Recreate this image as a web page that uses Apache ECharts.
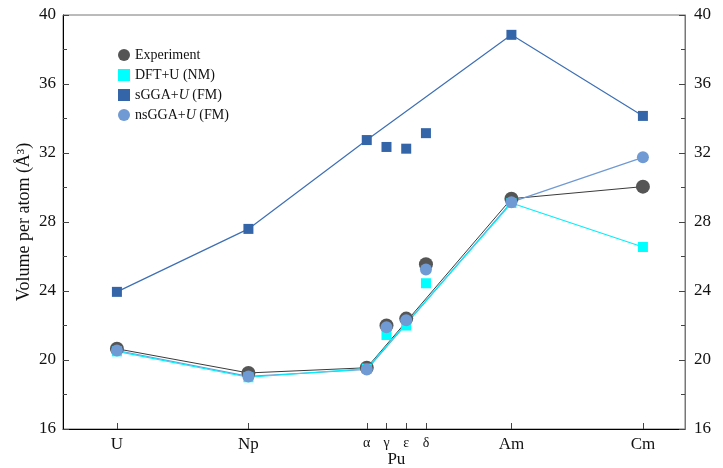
<!DOCTYPE html>
<html><head><meta charset="utf-8">
<script src="https://cdn.jsdelivr.net/npm/echarts@6/dist/echarts.min.js"></script>
<style>html,body{margin:0;padding:0;background:#fff}#c{width:723px;height:468px}</style>
</head><body><div id="c"></div>
<script>
const xPos = [1, 2, 2.9, 3.05, 3.2, 3.35, 4, 5];
const xLabels = ['U', 'Np', 'α', 'γ', 'ε', 'δ', 'Am', 'Cm'];
const experiment = [20.65, 19.25, 19.55, 22.0, 22.4, 25.55, 29.35, 30.05];
const dftU = [20.5, 19.0, 19.5, 21.45, 22.0, 24.45, 29.1, 26.55];
const sGGA = [23.95, 27.6, 32.75, 32.35, 32.25, 33.15, 38.85, 34.15];
const nsGGA = [20.55, 19.05, 19.45, 21.9, 22.3, 25.25, 29.15, 31.75];
const lineIdx = [0, 1, 2, 6, 7];
const puLabel = 'Pu';
const puPos = 3.125;

const pts = arr => xPos.map((x, i) => [x, arr[i]]);
const linePts = arr => lineIdx.map(i => [xPos[i], arr[i]]);
const FONT = 'Liberation Serif';
const greek = new Set(['α', 'γ', 'ε', 'δ']);

const chart = echarts.init(document.getElementById('c'));
const xCommon = {type: 'value', min: 0.59, max: 5.32, splitLine: {show: false}};
chart.setOption({
  animation: false,
  grid: {left: 63, right: 38, top: 15, bottom: 35, show: true, borderColor: '#777', borderWidth: 1, containLabel: false},
  legend: {
    orient: 'vertical', left: 113, top: 42, itemGap: 4, itemWidth: 12, itemHeight: 12,
    textStyle: {fontFamily: FONT, fontSize: 14, lineHeight: 16, color: '#111', rich: {i: {fontFamily: FONT, fontSize: 14, lineHeight: 16, fontStyle: 'italic', color: '#111'}}},
    formatter: n => n.replace('+U', '+{i|U}').replace('DFT+{i|U}', 'DFT+U'),
    data: [
      {name: 'Experiment', icon: 'circle'},
      {name: 'DFT+U (NM)', icon: 'rect'},
      {name: 'sGGA+U (FM)', icon: 'rect'},
      {name: 'nsGGA+U (FM)', icon: 'circle'}
    ]
  },
  xAxis: [
    Object.assign({}, xCommon, {
      position: 'bottom',
      axisLine: {show: true, lineStyle: {color: '#000', width: 1}},
      axisTick: {show: true, inside: true, length: 6, customValues: xPos, lineStyle: {color: '#444'}},
      axisLabel: {
        customValues: xPos, margin: 7, color: '#111', fontFamily: FONT, fontSize: 17,
        formatter: v => { const i = xPos.findIndex(p => Math.abs(p - v) < 1e-6); const t = i >= 0 ? xLabels[i] : ''; return greek.has(t) ? '{g|' + t + '}' : t; },
        rich: {g: {fontFamily: FONT, fontSize: 14, color: '#111'}}
      }
    }),
    Object.assign({}, xCommon, {
      position: 'bottom', axisLine: {show: false}, axisTick: {show: false},
      axisLabel: {customValues: [puPos], margin: 22, color: '#111', fontFamily: FONT, fontSize: 17, formatter: () => puLabel}
    })
  ],
  yAxis: [
    {
      type: 'value', min: 16, max: 40, interval: 4, position: 'left',
      name: 'Volume per atom (Å³)', nameLocation: 'middle', nameGap: 30, nameMoveOverlap: false,
      nameTextStyle: {fontFamily: FONT, fontSize: 18, color: '#111'},
      axisLine: {show: true, lineStyle: {color: '#000'}},
      axisTick: {show: true, inside: true, length: 6, lineStyle: {color: '#444'}},
      minorTick: {show: true, splitNumber: 2, length: 4, lineStyle: {color: '#444'}},
      axisLabel: {margin: 7, color: '#111', fontFamily: FONT, fontSize: 17},
      splitLine: {show: false}
    },
    {
      type: 'value', min: 16, max: 40, interval: 4, position: 'right',
      axisLine: {show: true, lineStyle: {color: '#777'}},
      axisTick: {show: true, inside: true, length: 6, lineStyle: {color: '#444'}},
      minorTick: {show: true, splitNumber: 2, length: 4, lineStyle: {color: '#444'}},
      axisLabel: {margin: 9, color: '#111', fontFamily: FONT, fontSize: 17},
      splitLine: {show: false}
    }
  ],
  series: [
    {type: 'line', data: linePts(experiment), symbol: 'none', lineStyle: {color: '#3a3a3a', width: 1}, z: 1},
    {type: 'line', data: linePts(sGGA), symbol: 'none', lineStyle: {color: '#3d6fb5', width: 1.2}, z: 1},
    {type: 'line', data: linePts(nsGGA), symbol: 'none', lineStyle: {color: '#6f9ad3', width: 1.2}, z: 1},
    {type: 'line', data: linePts(dftU), symbol: 'none', lineStyle: {color: '#00f0ff', width: 1.2}, z: 1},
    {name: 'Experiment', type: 'scatter', data: pts(experiment), symbol: 'circle', symbolSize: 14, itemStyle: {color: '#555', opacity: 1}, z: 3},
    {name: 'DFT+U (NM)', type: 'scatter', data: pts(dftU), symbol: 'rect', symbolSize: 10, itemStyle: {color: '#00ffff', opacity: 1}, z: 4},
    {name: 'sGGA+U (FM)', type: 'scatter', data: pts(sGGA), symbol: 'rect', symbolSize: 10, itemStyle: {color: '#3465a8', opacity: 1}, z: 4},
    {name: 'nsGGA+U (FM)', type: 'scatter', data: pts(nsGGA), symbol: 'circle', symbolSize: 12, itemStyle: {color: '#6f9ad3', opacity: 1}, z: 5}
  ]
});
</script></body></html>
